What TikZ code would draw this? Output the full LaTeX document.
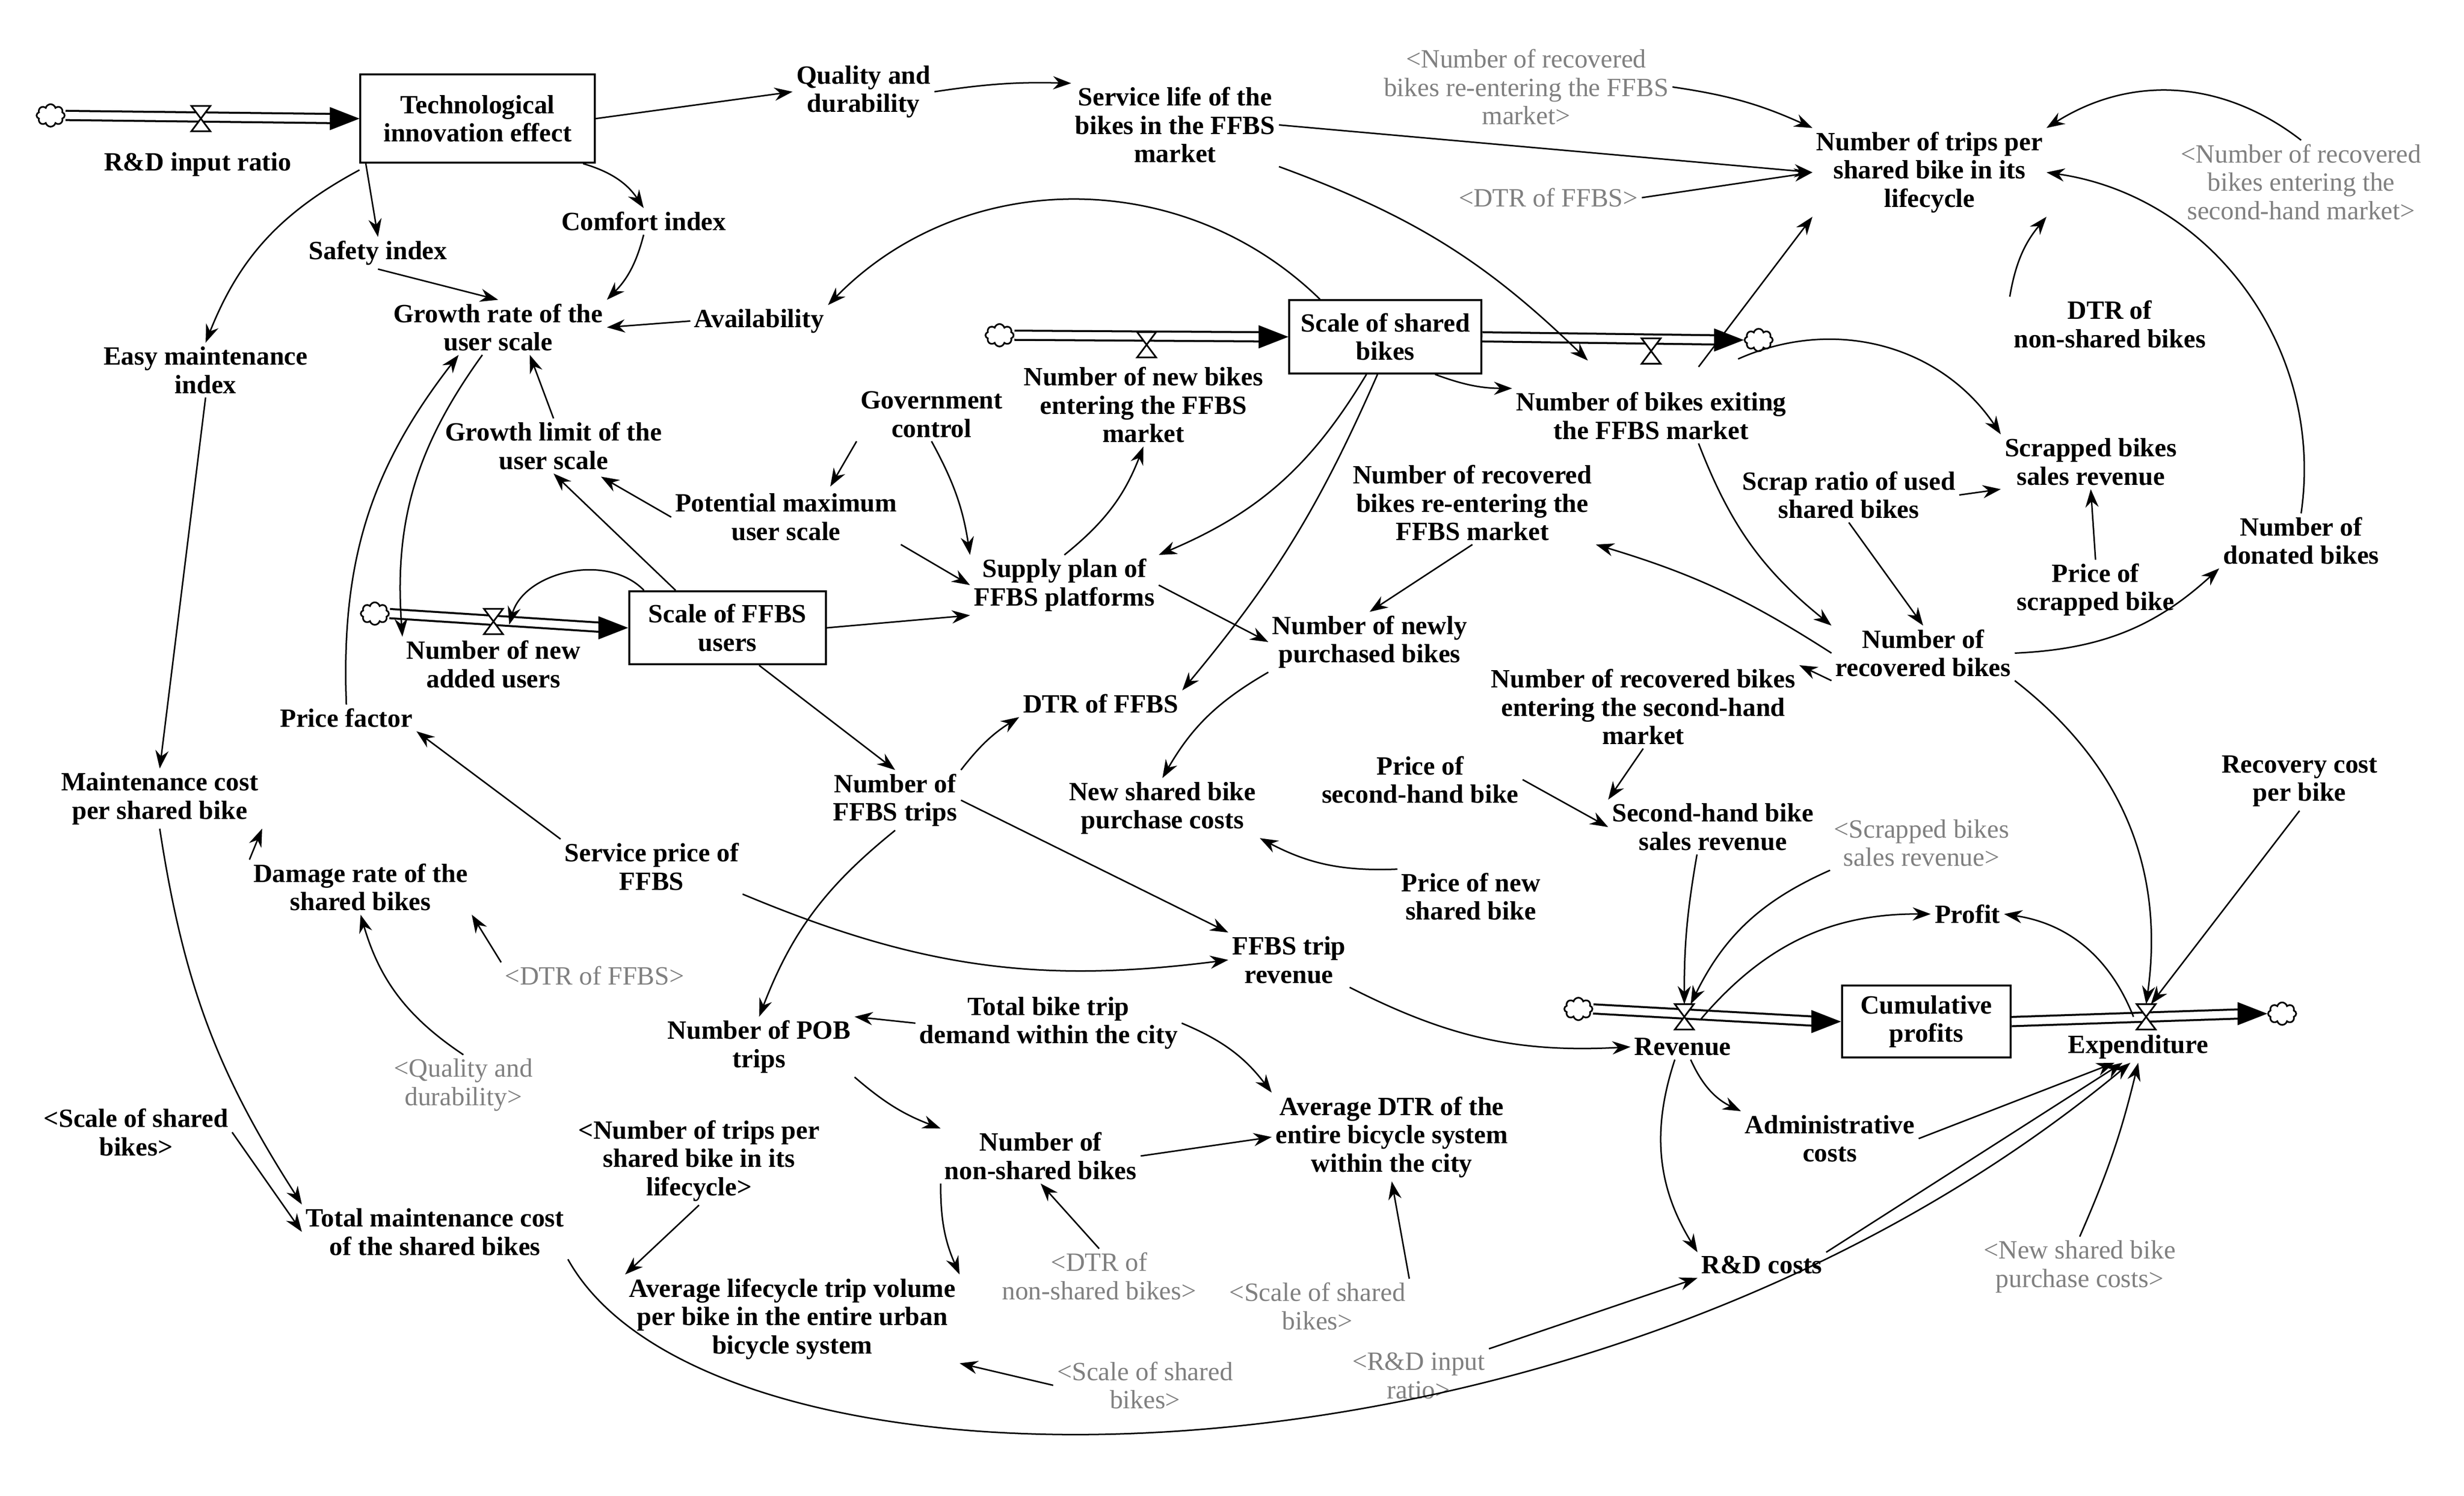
\documentclass[tikz,border=0pt]{standalone}
\usepackage{fontspec}
\setmainfont{Liberation Serif}
\usetikzlibrary{arrows.meta,shapes.symbols,calc}
\begin{document}
\begin{tikzpicture}[x=0.01688cm,y=-0.01688cm,
  v/.style={font=\fontsize{8}{8.6}\selectfont\bfseries,align=center,inner sep=1pt},
  g/.style={font=\fontsize{8}{8.6}\selectfont,text=gray,align=center,inner sep=1pt},
  stock/.style={v,draw,line width=0.6pt,minimum height=0.78cm,inner sep=3pt},
  cl/.style={cloud,draw,cloud puffs=8,minimum width=0.3cm,minimum height=0.24cm,inner sep=0pt,line width=0.5pt,fill=white},
  a/.style={line width=0.45pt,-{Stealth[length=5.5pt,width=4pt]}},
  pipe/.style={double,double distance=2.2pt,line width=0.6pt},
  head/.style={line width=0.1pt,-{Triangle[length=9pt,width=7pt]}}]
\useasboundingbox (0,0) rectangle (1558,946);
\newcommand\valvesym[1]{\draw[line width=0.5pt,fill=white] ($(#1)+(-6,-8)$) -- ($(#1)+(6,-8)$) -- ($(#1)+(-6,8)$) -- ($(#1)+(6,8)$) -- cycle;}
% nodes
\node[cl] (c1) at (32,73) {};
\coordinate (v1) at (127,75);
\node[stock,minimum width=2.5cm,minimum height=0.94cm] (tech) at (302,75) {Technological\\innovation effect};
\node[v] (rdin) at (125,104) {R\&D input ratio};
\node[v] (qual) at (546,58) {Quality and\\durability};
\node[v] (serv) at (743,79) {Service life of the\\bikes in the FFBS\\market};
\node[g] (gNRre) at (965,55) {<Number of recovered\\bikes re-entering the FFBS\\market>};
\node[v] (trips) at (1220,109) {Number of trips per\\shared bike in its\\lifecycle};
\node[g] (gNRsh) at (1455,115) {<Number of recovered\\bikes entering the\\second-hand market>};
\node[g] (gDTR1) at (979,125) {<DTR of FFBS>};
\node[v] (comf) at (407,140) {Comfort index};
\node[v] (safe) at (239,160) {Safety index};
\node[v] (grow) at (315,207) {Growth rate of the\\user scale};
\node[v] (avail) at (480,203) {Availability};
\node[stock,minimum width=2.05cm] (shared) at (876,213) {Scale of shared\\bikes};
\node[cl] (c2) at (632,212) {};
\coordinate (v2) at (725,218);
\node[v] (newb) at (723,256) {Number of new bikes\\entering the FFBS\\market};
\coordinate (v3) at (1044,222);
\node[cl] (c3) at (1112,215) {};
\node[v] (exit) at (1044,263) {Number of bikes exiting\\the FFBS market};
\node[v] (dtrn) at (1334,205) {DTR of\\non-shared bikes};
\node[v] (scrrev) at (1322,292) {Scrapped bikes\\sales revenue};
\node[v] (easy) at (130,234) {Easy maintenance\\index};
\node[v] (gov) at (589,262) {Government\\control};
\node[v] (glim) at (350,282) {Growth limit of the\\user scale};
\node[v] (pmax) at (497,327) {Potential maximum\\user scale};
\node[v] (nrre) at (931,318) {Number of recovered\\bikes re-entering the\\FFBS market};
\node[v] (scrap) at (1169,313) {Scrap ratio of used\\shared bikes};
\node[v] (donated) at (1455,342) {Number of\\donated bikes};
\node[v] (pscr) at (1325,373) {Price of\\scrapped bike};
\node[v] (supply) at (673,370) {Supply plan of\\FFBS platforms};
\node[cl] (c4) at (237,388) {};
\coordinate (v4) at (312,393);
\node[stock,minimum width=2.1cm] (users) at (460,397) {Scale of FFBS\\users};
\node[v] (newu) at (312,420) {Number of new\\added users};
\node[v] (newly) at (866,406) {Number of newly\\purchased bikes};
\node[v] (nrec) at (1216,413) {Number of\\recovered bikes};
\node[v] (nrsh) at (1039,447) {Number of recovered bikes\\entering the second-hand\\market};
\node[v] (dtr) at (696,445) {DTR of FFBS};
\node[v] (pf) at (219,454) {Price factor};
\node[v] (psh) at (898,493) {Price of\\second-hand bike};
\node[v] (ntrips) at (566,506) {Number of\\FFBS trips};
\node[v] (mcost) at (101,505) {Maintenance cost\\per shared bike};
\node[v] (npc) at (735,511) {New shared bike\\purchase costs};
\node[v] (shrev) at (1083,523) {Second-hand bike\\sales revenue};
\node[v] (rcost) at (1454,494) {Recovery cost\\per bike};
\node[g] (gscr) at (1215,533) {<Scrapped bikes\\sales revenue>};
\node[v] (sprice) at (412,548) {Service price of\\FFBS};
\node[v] (damage) at (228,561) {Damage rate of the\\shared bikes};
\node[v] (pnew) at (930,567) {Price of new\\shared bike};
\node[v] (profit) at (1244,578) {Profit};
\node[v] (trev) at (815,607) {FFBS trip\\revenue};
\node[g] (gDTR2) at (376,617) {<DTR of FFBS>};
\node[v] (demand) at (663,647) {Total bike trip\\demand within the city};
\node[v] (pob) at (480,662) {Number of POB\\trips};
\node[cl] (c5) at (998,638) {};
\coordinate (v5) at (1065,643);
\node[v] (rev) at (1064,662) {Revenue};
\node[stock,minimum width=1.8cm,minimum height=0.7cm] (cum) at (1218,646) {Cumulative\\profits};
\coordinate (v6) at (1357,643);
\node[cl] (c6) at (1443,641) {};
\node[v] (exp) at (1352,662) {Expenditure};
\node[g] (gqual) at (293,686) {<Quality and\\durability>};
\node[v] (avgdtr) at (880,719) {Average DTR of the\\entire bicycle system\\within the city};
\node[v] (gscale1) at (86,716) {<Scale of shared\\bikes>};
\node[v] (gtrips) at (442,734) {<Number of trips per\\shared bike in its\\lifecycle>};
\node[v] (nonsh) at (658,731) {Number of\\non-shared bikes};
\node[v] (admin) at (1157,720) {Administrative\\costs};
\node[v] (total) at (275,779) {Total maintenance cost\\of the shared bikes};
\node[g] (gdtrn) at (695,807) {<DTR of\\non-shared bikes>};
\node[g] (gscale2) at (833,826) {<Scale of shared\\bikes>};
\node[v] (rd) at (1114,800) {R\&D costs};
\node[g] (gnpc) at (1315,801) {<New shared bike\\purchase costs>};
\node[v] (avglife) at (501,834) {Average lifecycle trip volume\\per bike in the entire urban\\bicycle system};
\node[g] (gscale3) at (724,876) {<Scale of shared\\bikes>};
\node[g] (grdin) at (897,870) {<R\&D input\\ratio>};
% pipes
\draw[pipe] (c1.east) -- ($(tech.west)+(-12,0)$);
\draw[head] ($(tech.west)+(-14,0)$) -- (tech.west);
\draw[pipe] (c2.east) -- ($(shared.west)+(-12,0)$);
\draw[head] ($(shared.west)+(-14,0)$) -- (shared.west);
\draw[pipe] (shared.east) -- ($(c3.west)+(-12,0)$);
\draw[head] ($(c3.west)+(-14,0)$) -- (c3.west);
\draw[pipe] (c4.east) -- ($(users.west)+(-12,0)$);
\draw[head] ($(users.west)+(-14,0)$) -- (users.west);
\draw[pipe] (c5.east) -- ($(cum.west)+(-12,0)$);
\draw[head] ($(cum.west)+(-14,0)$) -- (cum.west);
\draw[pipe] (cum.east) -- ($(c6.west)+(-12,0)$);
\draw[head] ($(c6.west)+(-14,0)$) -- (c6.west);
\valvesym{v1}\valvesym{v2}\valvesym{v3}\valvesym{v4}\valvesym{v5}\valvesym{v6}
% links
\draw[a] (tech.east) -- (qual.west);
\draw[a] (qual.east) to[bend left=5] (serv.north west);
\draw[a] (serv.east) -- (trips.west);
\draw[a] (gNRre.east) to[bend left=8] (trips.north west);
\draw[a] (gNRsh.north) to[bend right=35] (trips.north east);
\draw[a] (gDTR1.east) -- (trips.west);
\draw[a] ($(tech.south east)+(-8,0)$) to[bend left=20] (comf.north);
\draw[a] ($(tech.south west)+(4,0)$) -- (safe.north);
\draw[a] ($(tech.south west)+(0,4)$) to[bend right=20] (easy.north);
\draw[a] (comf.south) to[bend left=15] (grow.north east);
\draw[a] (safe.south) -- (grow.north);
\draw[a] (avail.west) -- (grow.east);
\draw[a] ($(shared.north west)+(20,0)$) to[bend right=45] (avail.north east);
\draw[a] (glim.north) -- ($(grow.south)+(20,0)$);
\draw[a] ($(grow.south)+(-10,0)$) to[bend right=20] (newu.north west);
\draw[a] (pf.north) to[bend left=20] ($(grow.south)+(-25,0)$);
\draw[a] (pmax.west) -- ($(glim.south)+(30,2)$);
\draw[a] ($(users.north west)+(30,0)$) -- (glim.south);
\draw[a] (gov.south west) -- ($(pmax.north)+(28,-2)$);
\draw[a] (gov.south) to[bend left=10] (supply.north west);
\draw[a] (pmax.south east) -- (supply.west);
\draw[a] (users.east) -- (supply.south west);
\draw[a] (supply.north) to[bend right=15] (newb.south);
\draw[a] ($(shared.south)+(-12,0)$) to[bend left=18] (supply.north east);
\draw[a] ($(shared.south)+(-5,0)$) to[bend left=8] (dtr.north east);
\draw[a] (supply.east) -- (newly.west);
\draw[a] (nrre.south) -- (newly.north);
\draw[a] (newly.south west) to[bend right=15] (npc.north);
\draw[a] ($(shared.south east)+(-30,0)$) to[bend right=10] (exit.north west);
\draw[a] (serv.south east) to[bend left=12] ($(v3)+(-40,6)$);
\draw[a] ($(v3)+(30,10)$) -- (trips.south west);
\draw[a] ($(v3)+(55,5)$) to[bend left=40] (scrrev.north west);
\draw[a] ($(exit.south)+(30,0)$) to[bend right=15] (nrec.north west);
\draw[a] (scrap.east) -- (scrrev.south west);
\draw[a] (scrap.south) -- (nrec.north);
\draw[a] (pscr.north) -- (scrrev.south);
\draw[a] (nrec.west) to[bend right=8] (nrre.south east);
\draw[a] (nrec.south west) -- (nrsh.north east);
\draw[a] (nrec.east) to[bend right=20] (donated.south west);
\draw[a] (donated.north) to[bend right=45] (trips.east);
\draw[a] (dtrn.north west) to[bend left=15] (trips.south east);
\draw[a] (nrec.south east) to[bend left=30] ($(v6)+(0,-8)$);
\draw[a] (nrsh.south) -- (shrev.north west);
\draw[a] (psh.east) -- (shrev.west);
\draw[a] ($(shrev.south)+(-10,0)$) to[bend right=5] ($(v5)+(0,-8)$);
\draw[a] (gscr.south west) to[bend right=20] ($(v5)+(4,-8)$);
\draw[a] (rcost.south) -- ($(v6)+(3,-8)$);
\draw[a] ($(v5)+(10,2)$) to[bend left=25] (profit.west);
\draw[a] ($(v6)+(-8,0)$) to[bend right=30] (profit.east);
\draw[a] ($(rev.south)+(5,0)$) to[bend right=20] (admin.north west);
\draw[a] ($(rev.south)+(-5,0)$) to[bend right=25] (rd.north west);
\draw[a] (admin.east) -- ($(exp.south)+(-15,0)$);
\draw[a] (rd.north east) -- ($(exp.south)+(-10,0)$);
\draw[a] (gnpc.north) to[bend right=5] (exp.south);
\draw[a] (total.south east) .. controls (450,960) and (1000,960) .. ($(exp.south)+(-5,0)$);
\draw[a] (grdin.north east) -- (rd.south west);
\draw[a] (trev.south east) to[bend right=15] (rev.west);
\draw[a] (ntrips.east) -- (trev.north west);
\draw[a] (sprice.south east) to[bend right=15] (trev.west);
\draw[a] (sprice.north west) -- (pf.south east);
\draw[a] ($(users.south)+(20,0)$) -- (ntrips.north);
\draw[a] (ntrips.north east) to[bend left=10] (dtr.south west);
\draw[a] (ntrips.south) to[bend right=15] (pob.north);
\draw[a] (demand.west) -- (pob.north east);
\draw[a] (demand.east) to[bend left=15] (avgdtr.north west);
\draw[a] (pob.south east) to[bend right=10] (nonsh.north west);
\draw[a] (nonsh.east) -- (avgdtr.west);
\draw[a] (nonsh.south west) to[bend right=12] (avglife.north east);
\draw[a] (gdtrn.north) -- (nonsh.south);
\draw[a] (gscale2.north east) -- (avgdtr.south);
\draw[a] (gscale3.west) -- (avglife.south east);
\draw[a] (gtrips.south) -- (avglife.north west);
\draw[a] (pnew.north west) to[bend left=15] (npc.south east);
\draw[a] (damage.north west) -- (mcost.south east);
\draw[a] (gDTR2.north west) -- (damage.south east);
\draw[a] (gqual.north) to[bend left=20] (damage.south);
\draw[a] (easy.south) -- (mcost.north);
\draw[a] (mcost.south) to[bend right=12] (total.north west);
\draw[a] (gscale1.east) -- (total.west);
\draw[a] ($(users.north west)+(10,0)$) to[bend right=60] ($(v4)+(10,2)$);
\end{tikzpicture}
\end{document}
